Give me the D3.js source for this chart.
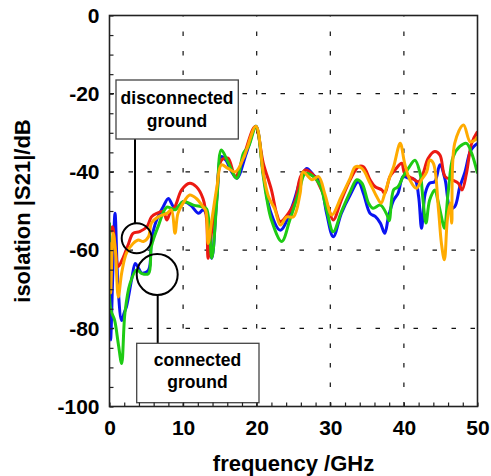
<!DOCTYPE html>
<html>
<head>
<meta charset="utf-8">
<script src="https://cdn.jsdelivr.net/npm/d3@7"></script>
<style>
  body { margin: 0; background: #fff; }
  svg { font-family: "Liberation Sans", Arial, sans-serif; font-weight: bold; }
</style>
</head>
<body>
<svg width="491" height="476"></svg>
<script>
// frequency (GHz), isolation (dB)
const blue = [[0,-53],[0.15,-83],[0.45,-66],[0.75,-50.6],[1.15,-69],[1.65,-78],[2.0,-76],[2.3,-74.5],[3.0,-67.6],[3.5,-63.4],[3.9,-64.5],[4.4,-65.9],[5.3,-65.1],[5.7,-57.4],[6.4,-52.3],[7.3,-48.9],[8.0,-46.8],[8.7,-48.9],[9.3,-49],[10,-47.6],[11,-48.5],[12.1,-50.6],[12.7,-49.7],[13.2,-51],[13.9,-62.1],[14.6,-46.3],[15.2,-36.1],[15.8,-37],[16.6,-40],[17.3,-41.6],[18.6,-35.2],[19.9,-28.3],[20.9,-40.4],[21.8,-49.7],[23.2,-54.9],[24.8,-48.9],[26.1,-41.2],[26.8,-39.1],[27.7,-40.8],[28.6,-42.5],[29.5,-50.6],[30.4,-56.6],[31.5,-50.6],[32.7,-45.9],[33.8,-42.5],[34.5,-45.5],[35.4,-50.6],[36.1,-51.4],[36.8,-53.1],[37.4,-55.7],[37.9,-51.5],[38.6,-47.2],[39.2,-45.5],[39.9,-41.2],[40.6,-41.6],[41.5,-42],[42.0,-46.3],[42.4,-54.4],[42.9,-45.5],[43.5,-42.9],[44.2,-42.5],[44.9,-38.2],[45.6,-42],[46.3,-49.3],[46.9,-48.9],[47.6,-43.8],[48.3,-40],[49,-34.8],[49.5,-33.5],[50,-32.7]];

const red = [[0,-56],[0.4,-54],[0.8,-60],[1.2,-64.2],[1.9,-61.7],[2.6,-58.3],[3.2,-55.7],[4.1,-55.3],[5.1,-54],[5.7,-51.5],[6.4,-50.6],[7.3,-50.2],[7.8,-52.3],[8.2,-50.6],[8.9,-48.9],[9.8,-44.6],[10.9,-42.9],[11.8,-43.8],[12.7,-46.8],[13.2,-52.3],[13.4,-62.1],[13.9,-54.9],[14.6,-44.6],[15.2,-37],[16.1,-36.5],[17.1,-41.2],[18.2,-36.1],[19.8,-28.4],[20.9,-37.8],[22.0,-44.6],[22.7,-50.6],[23.2,-52.7],[24.3,-50.6],[25.2,-47.6],[25.9,-41.5],[26.6,-39.5],[27.7,-40.8],[28.8,-44.6],[29.7,-48.9],[30.4,-52.3],[31.5,-47.2],[32.7,-42],[33.8,-38.7],[34.5,-38.7],[35.4,-42],[36.1,-43.8],[37,-44.6],[37.4,-45.5],[38.1,-41.2],[38.8,-39.5],[39.7,-37.8],[40.1,-40.4],[41.1,-41.6],[42,-42.5],[42.6,-40.4],[43.3,-36.5],[44.2,-34.8],[44.9,-35.7],[45.6,-41.2],[46.5,-42],[47.4,-42.9],[47.9,-44.6],[48.5,-40.4],[49.2,-32.7],[50,-29.7]];

const green = [[0,-53],[0.15,-75],[0.7,-78],[1.2,-84],[1.65,-89],[2.1,-76],[2.8,-68.5],[3.7,-65],[4.4,-66],[5.3,-66],[5.7,-59],[6.6,-54],[7.8,-49],[8.9,-49.7],[10,-47.6],[11.4,-48.5],[12.7,-49],[13.2,-49.5],[13.9,-62],[14.6,-47],[15.2,-34.4],[16.1,-37.5],[17.3,-41.6],[18.2,-35.2],[18.9,-33.5],[19.9,-28.3],[20.9,-41.2],[21.4,-47.2],[22,-52.3],[23.4,-57.8],[24.5,-52.3],[25.7,-45.5],[26.6,-40.4],[27.7,-41.2],[28.6,-43.4],[29.5,-49.7],[30.4,-55.3],[31.5,-50.2],[32.7,-45.1],[33.6,-42],[34.3,-42.9],[35.2,-48],[35.8,-49.3],[36.8,-48.5],[37.7,-51],[38.0,-52.5],[38.6,-44.6],[39.2,-43.8],[39.9,-41.2],[40.6,-39.1],[41.5,-37],[42.2,-40.4],[42.6,-47.2],[43,-53.1],[43.5,-47.2],[44.2,-44.6],[44.6,-47.2],[45.1,-51.5],[45.5,-54.4],[46,-45.5],[46.7,-36.1],[47.6,-33.5],[48.5,-32.7],[49.2,-35.2],[50,-40.4]];

const orange = [[0,-58],[0.15,-71],[0.5,-55.6],[0.8,-60],[1.2,-72],[1.65,-65.9],[2.3,-60.8],[3.2,-58.3],[3.9,-57.4],[4.6,-57.8],[5.3,-56.6],[5.7,-53.1],[6.6,-51.5],[7.8,-50.6],[8.4,-49.7],[8.9,-55.7],[9.3,-50.6],[10,-48],[10.9,-45.9],[11.8,-46.8],[12.7,-48.9],[13.1,-50],[13.4,-58.3],[13.9,-52.3],[14.6,-43.8],[15.2,-38.2],[16.1,-39.1],[17.1,-40],[18.2,-36.5],[19.9,-28.3],[20.9,-40.4],[21.6,-46.3],[22.5,-49.7],[23.2,-53.6],[24.1,-51.5],[25,-51.5],[25.9,-45.5],[26.3,-40],[27.5,-42],[28.4,-41.2],[29.3,-45.9],[30.2,-51],[31.5,-46.3],[32.7,-41.6],[33.4,-38.7],[34.3,-39.1],[35.4,-42.9],[36.3,-46.3],[36.9,-48],[37.4,-45.5],[38.1,-41.2],[38.6,-38.7],[39.5,-32.7],[40.1,-37.8],[40.8,-42],[41.7,-44.2],[42.4,-42],[43.1,-40],[43.5,-37],[44,-37.8],[44.7,-49.7],[45.1,-58.3],[45.5,-62.5],[45.9,-52.3],[46.3,-48],[46.5,-53.1],[46.9,-32.7],[48.1,-28],[49,-32.3],[49.7,-31.8],[50,-31]];

const xGrid = [10, 20, 30, 40];
const yGrid = [-20, -40, -60, -80];

const svg = d3.select("svg");
const pLeft = 109.5, pRight = 477.5, pTop = 15.5, pBottom = 406.5;

const x = d3.scaleLinear().domain([0, 50]).range([pLeft, pRight]);
const y = d3.scaleLinear().domain([-100, 0]).range([pBottom, pTop]);

// grid
svg.append("g").selectAll("line")
    .data(xGrid)
    .join("line")
    .attr("x1", d => x(d)).attr("x2", d => x(d))
    .attr("y1", pBottom).attr("y2", pTop)
    .attr("stroke", "#111").attr("stroke-width", 1.2)
    .attr("stroke-dasharray", "4.5,15");

svg.append("g").selectAll("line")
    .data(yGrid)
    .join("line")
    .attr("y1", d => y(d)).attr("y2", d => y(d))
    .attr("x1", pLeft).attr("x2", pRight)
    .attr("stroke", "#111").attr("stroke-width", 1.2)
    .attr("stroke-dasharray", "4.5,14.5");

svg.append("clipPath").attr("id", "clip")
    .append("rect")
    .attr("x", pLeft).attr("y", pTop)
    .attr("width", pRight - pLeft).attr("height", pBottom - pTop);

const line = d3.line()
    .x(d => x(d[0]))
    .y(d => y(d[1]))
    .curve(d3.curveCatmullRom.alpha(0.5));

const series = [
    { data: blue, color: "#0a14f2" },
    { data: red, color: "#ec1a12" },
    { data: green, color: "#1ecb14" },
    { data: orange, color: "#ffab00" }
];

svg.append("g").attr("clip-path", "url(#clip)")
    .selectAll("path")
    .data(series)
    .join("path")
    .attr("d", d => line(d.data))
    .attr("fill", "none")
    .attr("stroke", d => d.color)
    .attr("stroke-width", 3)
    .attr("stroke-linejoin", "round");

// annotations
const ann = svg.append("g");

ann.append("line")
    .attr("x1", 135).attr("x2", 135).attr("y1", 139).attr("y2", 223.5)
    .attr("stroke", "#000").attr("stroke-width", 2);
ann.append("circle")
    .attr("cx", 136.7).attr("cy", 238.3).attr("r", 15)
    .attr("fill", "none").attr("stroke", "#000").attr("stroke-width", 2);
ann.append("rect")
    .attr("x", 116).attr("y", 80).attr("width", 122.3).attr("height", 59)
    .attr("fill", "#fff").attr("stroke", "#444").attr("stroke-width", 1.3);
ann.append("text").attr("x", 177).attr("y", 104).attr("text-anchor", "middle")
    .attr("font-size", 17.5).text("disconnected");
ann.append("text").attr("x", 177).attr("y", 126.5).attr("text-anchor", "middle")
    .attr("font-size", 17.5).text("ground");

ann.append("line")
    .attr("x1", 157.7).attr("x2", 157.7).attr("y1", 295).attr("y2", 343.3)
    .attr("stroke", "#000").attr("stroke-width", 2);
ann.append("circle")
    .attr("cx", 157.2).attr("cy", 274.5).attr("r", 20.5)
    .attr("fill", "none").attr("stroke", "#000").attr("stroke-width", 2);
ann.append("rect")
    .attr("x", 136.7).attr("y", 343.3).attr("width", 122.3).attr("height", 59.4)
    .attr("fill", "#fff").attr("stroke", "#444").attr("stroke-width", 1.3);
ann.append("text").attr("x", 197.5).attr("y", 366).attr("text-anchor", "middle")
    .attr("font-size", 17.5).text("connected");
ann.append("text").attr("x", 197.5).attr("y", 388).attr("text-anchor", "middle")
    .attr("font-size", 17.5).text("ground");

// axes
const xAxis = d3.axisBottom(x)
    .tickValues(d3.range(0, 51, 2))
    .tickSize(-4)
    .tickPadding(13.5)
    .tickFormat(d => d % 10 === 0 ? d : "");

const yAxis = d3.axisLeft(y)
    .tickValues(d3.range(-100, 1, 5))
    .tickSize(-4)
    .tickPadding(10)
    .tickFormat(d => d % 20 === 0 ? d : "");

svg.append("g")
    .attr("transform", `translate(0,${pBottom})`)
    .call(xAxis)
    .call(g => g.select(".domain").remove())
    .call(g => g.selectAll("line").attr("stroke", "#222").attr("stroke-width", 1.2))
    .call(g => g.selectAll("text").attr("font-size", 21).attr("fill", "#000")
        .style("font-family", "'Liberation Sans', Arial, sans-serif").style("font-weight", "bold"));

svg.append("g")
    .attr("transform", `translate(${pLeft},0)`)
    .call(yAxis)
    .call(g => g.select(".domain").remove())
    .call(g => g.selectAll("line").attr("stroke", "#222").attr("stroke-width", 1.2))
    .call(g => g.selectAll("text").attr("font-size", 21).attr("fill", "#000")
        .style("font-family", "'Liberation Sans', Arial, sans-serif").style("font-weight", "bold"));

// frame
svg.append("rect")
    .attr("x", pLeft).attr("y", pTop)
    .attr("width", pRight - pLeft).attr("height", pBottom - pTop)
    .attr("fill", "none").attr("stroke", "#222").attr("stroke-width", 1.6);

svg.append("text")
    .attr("x", (pLeft + pRight) / 2).attr("y", 470.5)
    .attr("text-anchor", "middle").attr("font-size", 22)
    .text("frequency /GHz");

svg.append("text")
    .attr("transform", `translate(30,${(pTop + pBottom) / 2}) rotate(-90)`)
    .attr("text-anchor", "middle").attr("font-size", 22)
    .text("isolation |S21|/dB");
</script>
</body>
</html>
